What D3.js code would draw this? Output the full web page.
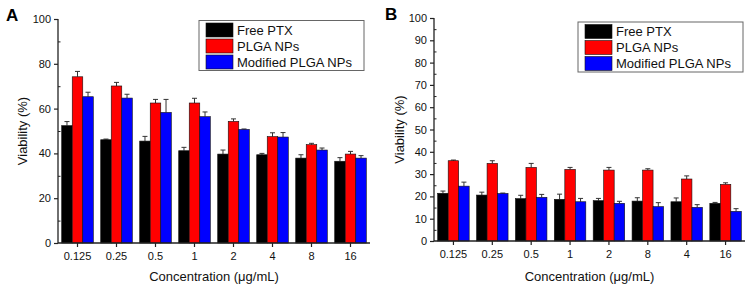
<!DOCTYPE html>
<html><head><meta charset="utf-8">
<script src="https://cdn.jsdelivr.net/npm/d3@7/dist/d3.min.js"></script>
<style>body{margin:0;background:#fff}svg{display:block}text{font-family:Arial,"Liberation Sans",sans-serif}</style>
</head><body>
<svg id="c" width="753" height="287"></svg>
<script>
const seriesNames = ["Free PTX","PLGA NPs","Modified PLGA NPs"];
const seriesColors = ["#000000","#ff0000","#0000ff"];

const categoriesA = ["0.125","0.25","0.5","1","2","4","8","16"];
const freeA = [52.4,46.1,45.5,41.2,39.7,39.4,37.9,36.5];
const plgaA = [74.2,70.1,62.5,62.5,54.3,47.5,43.9,39.7];
const modA  = [65.3,64.7,58.3,56.4,50.7,47.3,41.5,37.9];
const freeAErr = [1.8,0.3,2.1,1.5,1.8,0.6,1.5,1.6];
const plgaAErr = [2.4,1.6,1.6,2.1,1.1,1.7,0.6,1.2];
const modAErr  = [2.0,1.7,5.8,2.1,0.2,2.0,0.9,1.1];
const ticksA = [0,20,40,60,80,100];
const minorA = [10,30,50,70,90];

const categoriesB = ["0.125","0.25","0.5","1","2","8","4","16"];
const freeB = [21.4,20.6,19.0,18.7,18.1,17.9,17.6,16.9];
const plgaB = [36.0,34.8,33.0,32.1,31.8,31.8,27.8,25.4];
const modB  = [24.6,21.3,19.6,17.6,16.9,15.4,15.1,13.3];
const freeBErr = [1.0,1.3,1.5,2.3,1.0,1.5,1.7,0.4];
const plgaBErr = [0.3,1.2,1.8,0.9,1.2,0.6,1.4,0.7];
const modBErr  = [1.8,0.2,1.3,1.5,0.9,1.8,1.2,1.2];
const ticksB = [0,10,20,30,40,50,60,70,80,90,100];
const minorB = [5,15,25,35,45,55,65,75,85,95];

const svg = d3.select("#c");

function panel(opt){
  const g = svg.append("g");
  const x0 = d3.scaleBand().domain(opt.cats).range([opt.left,opt.right]).paddingInner(0.19).paddingOuter(0.095);
  const x1 = d3.scaleBand().domain(seriesNames).range([0,x0.bandwidth()]);
  const y = d3.scaleLinear().domain([0,100]).range([opt.bottom,opt.top]);
  const vals = [opt.free,opt.plga,opt.mod];
  const errs = [opt.freeErr,opt.plgaErr,opt.modErr];
  const data = [];
  opt.cats.forEach((c,i)=>seriesNames.forEach((s,j)=>data.push({c,s,j,v:vals[j][i],e:errs[j][i]})));
  // error bars
  const eb = g.append("g").attr("stroke","#333").attr("stroke-width",1);
  data.forEach(d=>{
    const cx = x0(d.c)+x1(d.s)+x1.bandwidth()/2;
    eb.append("line").attr("x1",cx).attr("x2",cx).attr("y1",y(d.v)).attr("y2",y(d.v+d.e));
    eb.append("line").attr("x1",cx-2.5).attr("x2",cx+2.5).attr("y1",y(d.v+d.e)).attr("y2",y(d.v+d.e));
  });
  g.append("g").selectAll("rect").data(data).join("rect")
    .attr("x",d=>x0(d.c)+x1(d.s)).attr("width",x1.bandwidth())
    .attr("y",d=>y(d.v)).attr("height",d=>opt.bottom-y(d.v))
    .attr("fill",d=>seriesColors[d.j]).attr("stroke","#111").attr("stroke-width",0.6);
  // y axis
  const ya = g.append("g").attr("transform",`translate(${opt.left},0)`)
    .call(d3.axisLeft(y).tickValues(opt.ticks).tickSize(4).tickPadding(3).tickFormat(d3.format("d")));
  ya.select(".domain").attr("stroke","#222").attr("stroke-width",1.3).attr("d",`M0,${opt.bottom}V${opt.top}`);
  ya.selectAll(".tick line").attr("stroke","#222").attr("stroke-width",1.2);
  ya.selectAll("text").attr("font-size",11).attr("fill","#111");
  const ym = g.append("g").attr("transform",`translate(${opt.left},0)`)
    .call(d3.axisRight(y).tickValues(opt.minor).tickSize(2.5).tickFormat(""));
  ym.select(".domain").remove();
  ym.selectAll(".tick line").attr("stroke","#222").attr("stroke-width",1);
  // x axis
  const xa = g.append("g").attr("transform",`translate(0,${opt.bottom})`)
    .call(d3.axisBottom(x0).tickSize(4).tickPadding(5).tickSizeOuter(0));
  xa.select(".domain").attr("stroke","#222").attr("stroke-width",1.3).attr("d",`M${opt.left},0H${opt.right}`);
  xa.selectAll(".tick line").attr("stroke","#222").attr("stroke-width",1.2);
  xa.selectAll("text").attr("font-size",11).attr("fill","#111");
  // titles
  g.append("text").attr("x",(opt.left+opt.right)/2).attr("y",281).attr("text-anchor","middle")
    .attr("font-size",13).attr("fill","#111").text("Concentration (μg/mL)");
  g.append("text").attr("transform",`translate(${opt.ytx},${(opt.top+opt.bottom)/2}) rotate(-90)`)
    .attr("text-anchor","middle").attr("dy","0.35em").attr("font-size",13).attr("fill","#111").text("Viability (%)");
  g.append("text").attr("x",opt.lx).attr("y",opt.ly).attr("font-size",17).attr("font-weight","bold").text(opt.letter);
  // legend
  const lg = g.append("g");
  lg.append("rect").attr("x",opt.legX).attr("y",opt.legY).attr("width",165).attr("height",50)
    .attr("fill","#fff").attr("stroke","#666").attr("stroke-width",1);
  seriesNames.forEach((s,j)=>{
    lg.append("rect").attr("x",opt.legX+7).attr("y",opt.legY+2.5+j*16).attr("width",27).attr("height",14)
      .attr("fill",seriesColors[j]).attr("stroke","#111").attr("stroke-width",0.6);
    lg.append("text").attr("x",opt.legX+38).attr("y",opt.legY+9.5+j*16).attr("dy","0.35em")
      .attr("font-size",13).attr("fill","#111").text(s);
  });
}

panel({cats:categoriesA,free:freeA,plga:plgaA,mod:modA,freeErr:freeAErr,plgaErr:plgaAErr,modErr:modAErr,
  ticks:ticksA,minor:minorA,left:58,right:370,top:19,bottom:243,ytx:22,letter:"A",lx:6,ly:21,legX:199,legY:20.5});
panel({cats:categoriesB,free:freeB,plga:plgaB,mod:modB,freeErr:freeBErr,plgaErr:plgaBErr,modErr:modBErr,
  ticks:ticksB,minor:minorB,left:434,right:745,top:18,bottom:241,ytx:399,letter:"B",lx:385,ly:20,legX:578,legY:22});
</script>
</body></html>
